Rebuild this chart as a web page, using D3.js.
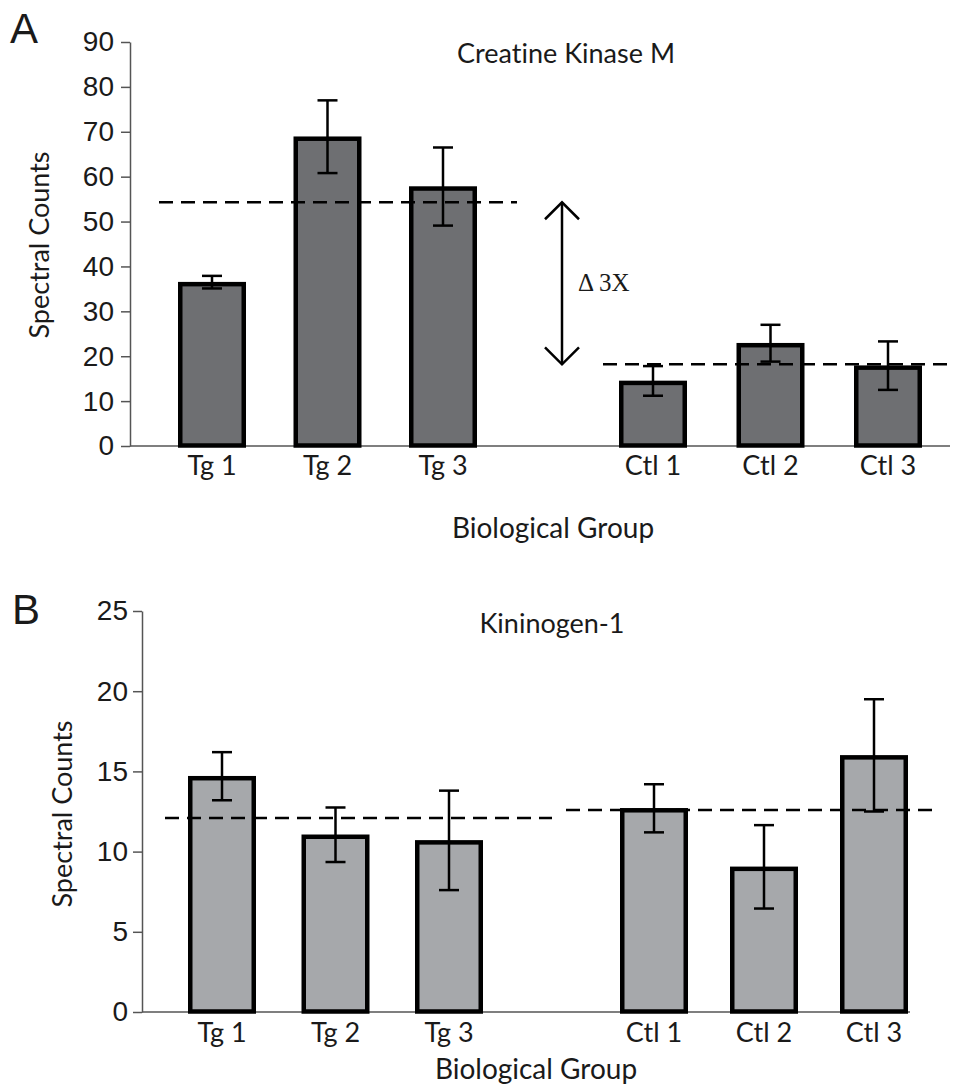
<!DOCTYPE html>
<html>
<head>
<meta charset="utf-8">
<script src="https://cdn.jsdelivr.net/npm/d3@7"></script>
<style>
  body { margin: 0; background: #fff; }
  svg text { fill: #1a1a1a; font-variant-ligatures: none; }
</style>
</head>
<body>
<svg id="chart" width="955" height="1088"></svg>
<script>
// groups shown on both panels
const tgGroups = ['Tg 1', 'Tg 2', 'Tg 3']
const ctlGroups = ['Ctl 1', 'Ctl 2', 'Ctl 3']

// panel A - Creatine Kinase M
const ckTg = [36.5, 68.9, 57.8]
const ckTgErr = [1.4, 8.1, 8.7]
const ckCtl = [14.5, 22.9, 17.9]
const ckCtlErr = [3.3, 4.1, 5.4]
const ckMeans = [54.3, 18.2]
const ckTicks = [0, 10, 20, 30, 40, 50, 60, 70, 80, 90]

// panel B - Kininogen-1
const knTg = [14.7, 11.05, 10.7]
const knTgErr = [1.5, 1.7, 3.1]
const knCtl = [12.7, 9.05, 16.0]
const knCtlErr = [1.5, 2.6, 3.5]
const knMeans = [12.1, 12.6]
const knTicks = [0, 5, 10, 15, 20, 25]

const svg = d3.select('#chart')
const sans = 'Lato, "Open Sans", sans-serif'
const arial = '"Liberation Sans", Arial, sans-serif'

function drawPanel(p) {
    const g = svg.append('g')
    const y = d3.scaleLinear().domain([0, d3.max(p.ticks)]).range([p.y0, p.y1])
    const xTg = d3.scalePoint().domain(tgGroups).range(p.tgRange)
    const xCtl = d3.scalePoint().domain(ctlGroups).range(p.ctlRange)

    const rows = tgGroups.map((c, i) => ({ x: xTg(c), v: p.tg[i], e: p.tgErr[i], label: c }))
        .concat(ctlGroups.map((c, i) => ({ x: xCtl(c), v: p.ctl[i], e: p.ctlErr[i], label: c })))

    // y axis
    const yAxis = g.append('g')
        .attr('transform', `translate(${p.axisX},0)`)
        .call(d3.axisLeft(y).tickValues(p.ticks).tickSize(9).tickSizeOuter(0).tickPadding(p.tickPad))
    yAxis.select('.domain').attr('stroke', '#555').attr('stroke-width', 1.5)
    yAxis.selectAll('.tick line').attr('stroke', '#555').attr('stroke-width', 1.5)
    yAxis.selectAll('.tick text').attr('font-family', arial).attr('font-size', 28).attr('fill', '#1a1a1a')

    // x baseline
    g.append('line')
        .attr('x1', p.axisX).attr('x2', p.axisEnd)
        .attr('y1', y(0)).attr('y2', y(0))
        .attr('stroke', '#555').attr('stroke-width', 1.5)

    // bars
    const bw = 63.5
    g.selectAll('rect.bar').data(rows).enter().append('rect')
        .attr('class', 'bar')
        .attr('x', d => d.x - bw / 2)
        .attr('y', d => y(d.v) + 2)
        .attr('width', bw)
        .attr('height', d => y(0) - y(d.v) - 2.5)
        .attr('fill', p.fill)
        .attr('stroke', '#000')
        .attr('stroke-width', 4.5)

    // group mean lines
    p.lineSpans.forEach((s, i) => {
        g.append('line')
            .attr('x1', s[0]).attr('x2', s[1])
            .attr('y1', y(p.means[i])).attr('y2', y(p.means[i]))
            .attr('stroke', '#000').attr('stroke-width', 2.5)
            .attr('stroke-dasharray', '14,8')
    })

    // error bars
    const eb = g.selectAll('g.err').data(rows).enter().append('g').attr('class', 'err')
    eb.append('line')
        .attr('x1', d => d.x).attr('x2', d => d.x)
        .attr('y1', d => y(d.v - d.e)).attr('y2', d => y(d.v + d.e))
        .attr('stroke', '#000').attr('stroke-width', 2.5)
    eb.append('line')
        .attr('x1', d => d.x - 10).attr('x2', d => d.x + 10)
        .attr('y1', d => y(d.v + d.e)).attr('y2', d => y(d.v + d.e))
        .attr('stroke', '#000').attr('stroke-width', 2.5)
    eb.append('line')
        .attr('x1', d => d.x - 10).attr('x2', d => d.x + 10)
        .attr('y1', d => y(d.v - d.e)).attr('y2', d => y(d.v - d.e))
        .attr('stroke', '#000').attr('stroke-width', 2.5)

    // category labels
    g.selectAll('text.cat').data(rows).enter().append('text')
        .attr('class', 'cat')
        .attr('x', d => d.x)
        .attr('y', y(0) + p.labelGap)
        .attr('text-anchor', 'middle')
        .attr('font-family', sans).attr('font-size', 27)
        .text(d => d.label)

    g.append('text')
        .attr('x', p.xTitle[0]).attr('y', p.xTitle[1])
        .attr('text-anchor', 'middle')
        .attr('font-family', sans).attr('font-size', 28)
        .text('Biological Group')

    g.append('text')
        .attr('transform', `translate(${p.yTitle[0]},${p.yTitle[1]}) rotate(-90)`)
        .attr('text-anchor', 'middle')
        .attr('font-family', sans).attr('font-size', 27)
        .text('Spectral Counts')

    g.append('text')
        .attr('x', p.title[0]).attr('y', p.title[1])
        .attr('text-anchor', 'middle')
        .attr('font-family', sans).attr('font-size', 27)
        .text(p.titleText)

    g.append('text')
        .attr('x', p.letter[0]).attr('y', p.letter[1])
        .attr('font-family', arial).attr('font-size', 42)
        .text(p.letterText)

    return y
}

const yA = drawPanel({
    ticks: ckTicks, y0: 446, y1: 42, axisX: 130, axisEnd: 950, tickPad: 7,
    tgRange: [212, 443], ctlRange: [653, 888],
    tg: ckTg, tgErr: ckTgErr, ctl: ckCtl, ctlErr: ckCtlErr, means: ckMeans,
    lineSpans: [[159, 517], [603, 948]],
    fill: '#6e6f72', labelGap: 29,
    xTitle: [553, 538], yTitle: [49, 245], title: [566, 63],
    titleText: 'Creatine Kinase M', letter: [10, 43], letterText: 'A'
})

drawPanel({
    ticks: knTicks, y0: 1012, y1: 611, axisX: 142, axisEnd: 910, tickPad: 5,
    tgRange: [222, 449], ctlRange: [654, 874],
    tg: knTg, tgErr: knTgErr, ctl: knCtl, ctlErr: knCtlErr, means: knMeans,
    lineSpans: [[165, 552], [566, 935]],
    fill: '#a6a8ab', labelGap: 30,
    xTitle: [536, 1079], yTitle: [72, 814], title: [552, 633],
    titleText: 'Kininogen-1', letter: [12, 624], letterText: 'B'
})

// double-headed arrow between the two group means in panel A
const ax = 562
const aTop = yA(ckMeans[0]), aBot = yA(ckMeans[1])
const arrow = svg.append('g').attr('stroke', '#000').attr('stroke-width', 2.5).attr('fill', 'none')
arrow.append('line').attr('x1', ax).attr('x2', ax).attr('y1', aTop).attr('y2', aBot)
arrow.append('path').attr('d', `M${ax - 17},${aTop + 17} L${ax},${aTop} L${ax + 17},${aTop + 17}`)
arrow.append('path').attr('d', `M${ax - 17},${aBot - 17} L${ax},${aBot} L${ax + 17},${aBot - 17}`)

svg.append('text')
    .attr('x', 578).attr('y', (aTop + aBot) / 2 + 8)
    .attr('font-family', '"Liberation Serif", "Times New Roman", serif')
    .attr('font-size', 25)
    .text('\u0394 3X')
</script>
</body>
</html>
